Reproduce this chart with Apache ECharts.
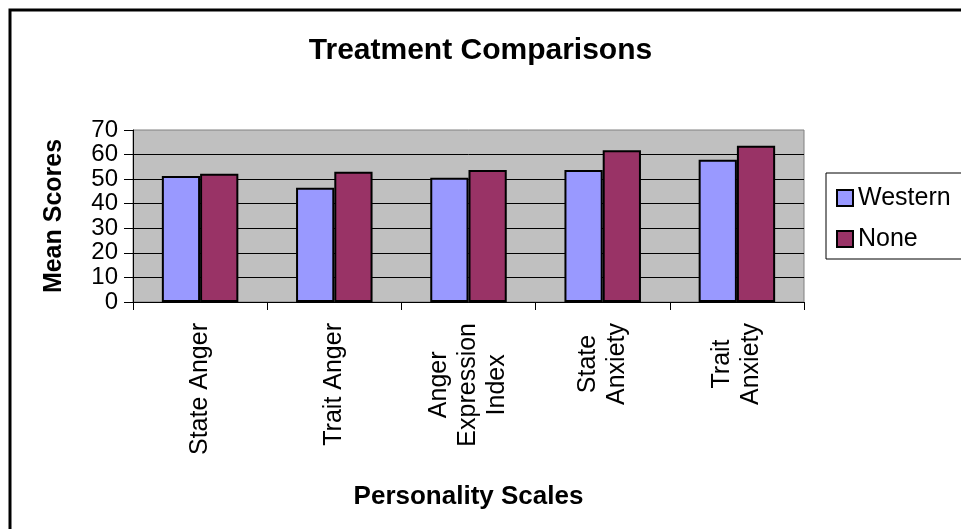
<!DOCTYPE html>
<html>
<head>
<meta charset="utf-8">
<script src="https://cdn.jsdelivr.net/npm/echarts@6/dist/echarts.min.js"></script>
<style>
html,body{margin:0;padding:0;background:#fff;}
#chart{width:961px;height:529px;}
</style>
</head>
<body>
<div id="chart"></div>
<script>
const categories = ['State Anger', 'Trait Anger', 'Anger\nExpression\nIndex', 'State\nAnxiety', 'Trait\nAnxiety'];
const westernValues = [51.3, 46.5, 50.6, 53.7, 57.9];
const noneValues = [52.2, 53.0, 53.7, 61.8, 63.6];
const seriesNames = ['Western', 'None'];
const yTicks = [0, 10, 20, 30, 40, 50, 60, 70];

const FONT = 'Arial, "Liberation Sans", sans-serif';
const chart = echarts.init(document.getElementById('chart'), null, {renderer: 'canvas'});

chart.setOption({
  backgroundColor: '#ffffff',
  animation: false,
  graphic: [{
    type: 'rect',
    shape: {x: 10, y: 10, width: 1000, height: 600},
    style: {fill: 'none', stroke: '#000', lineWidth: 3},
    z: 100
  }],
  title: {
    text: 'Treatment Comparisons',
    left: 'center',
    top: 31,
    textStyle: {fontFamily: FONT, fontSize: 30, fontWeight: 'bold', color: '#000'}
  },
  legend: {
    orient: 'vertical',
    left: 826,
    top: 173,
    padding: [11, 12, 6, 10],
    itemGap: 13,
    itemWidth: 16,
    itemHeight: 16,
    icon: 'rect',
    borderColor: '#000',
    borderWidth: 1,
    textStyle: {fontFamily: FONT, fontSize: 25, color: '#000', lineHeight: 28},
    data: seriesNames
  },
  grid: {
    left: 133, top: 130, width: 671, height: 172,
    show: true, backgroundColor: '#c0c0c0', borderColor: '#808080', borderWidth: 1
  },
  xAxis: {
    type: 'category',
    data: categories,
    name: 'Personality Scales',
    nameLocation: 'middle',
    nameGap: 182,
    nameTextStyle: {fontFamily: FONT, fontSize: 26, fontWeight: 'bold', color: '#000'},
    axisLine: {lineStyle: {color: '#000', width: 1}},
    axisTick: {show: true, length: 8, lineStyle: {color: '#000'}},
    axisLabel: {
      interval: 0,
      rotate: 90,
      margin: 21,
      color: '#000',
      fontFamily: FONT,
      fontSize: 25,
      formatter: function (v) {
        return v.split('\n').map(function (s) { return '{c|' + s + '}'; }).join('\n');
      },
      rich: {
        c: {align: 'center', fontFamily: FONT, fontSize: 25, lineHeight: 29, color: '#000'}
      }
    }
  },
  yAxis: {
    type: 'value',
    min: yTicks[0],
    max: yTicks[yTicks.length - 1],
    interval: 10,
    name: 'Mean Scores',
    nameLocation: 'middle',
    nameGap: 66,
    nameTextStyle: {fontFamily: FONT, fontSize: 25, fontWeight: 'bold', color: '#000'},
    axisLine: {show: true, lineStyle: {color: '#000', width: 1}},
    axisTick: {show: true, length: 9, lineStyle: {color: '#000'}},
    axisLabel: {margin: 15, color: '#000', fontFamily: FONT, fontSize: 24},
    splitLine: {show: true, showMaxLine: false, lineStyle: {color: '#000', width: 1}}
  },
  series: [
    {
      name: seriesNames[0],
      type: 'bar',
      data: westernValues,
      barGap: '0%',
      barCategoryGap: '43%',
      itemStyle: {color: '#9999ff', borderColor: '#000', borderWidth: 2}
    },
    {
      name: seriesNames[1],
      type: 'bar',
      data: noneValues,
      barGap: '0%',
      barCategoryGap: '43%',
      itemStyle: {color: '#993366', borderColor: '#000', borderWidth: 2}
    }
  ]
});
</script>
</body>
</html>
